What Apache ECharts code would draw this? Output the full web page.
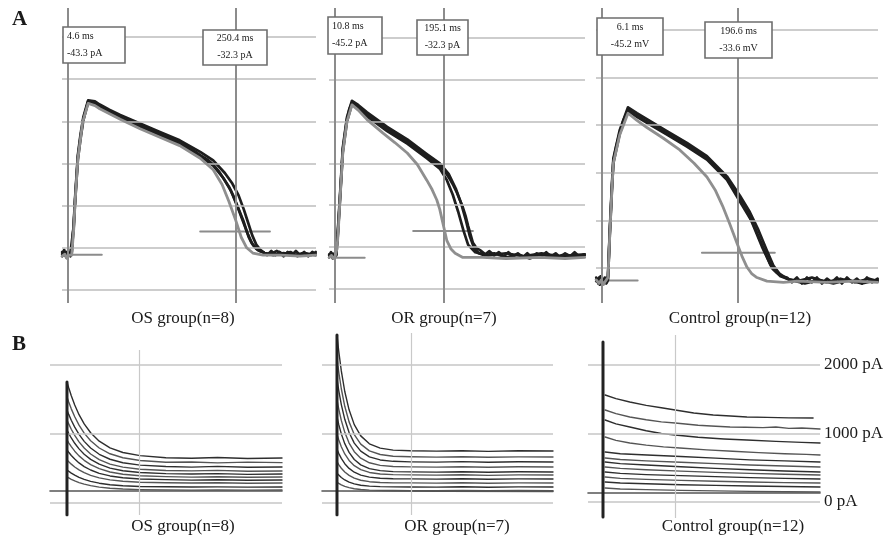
<!DOCTYPE html>
<html><head><meta charset="utf-8">
<script src="https://cdn.jsdelivr.net/npm/echarts@6/dist/echarts.min.js"></script>
<style>html,body{margin:0;padding:0;background:#fff}#c{width:887px;height:538px}</style>
</head><body><div id="c"></div>
<script>
// ---------------- Panel A : action potentials (t in ms, V in mV) ----------------
const aGridMV = [-60, -40, -20, 0, 20, 40, 60];
const ctGridMV = [-40, -20, 0, 20, 40, 60];
const osCursorT = [4.6, 250.4], osCursorV = [-43.3, -32.3], osUnit = 'pA';
const orCursorT = [10.8, 195.1], orCursorV = [-45.2, -32.3], orUnit = 'pA';
const ctCursorT = [6.1, 196.6], ctCursorV = [-45.2, -33.6], ctUnit = 'mV';
const osSegT = [[4.6, 54], [198, 300]];
const orSegT = [[10.8, 61], [143, 244]];
const ctSegT = [[10, 56], [146, 248]];
const groupNames = ['OS group(n=8)', 'OR group(n=7)', 'Control group(n=12)'];

const osBlackA = [[-4,-43],[-1,-41],[2,-44.5],[5,-42],[8,-44],[10,-42.5],[13,-29],[15,-17],[19,3],[23,13],[27,21],[31,26],[34,29.5],[40,29],[44,28.5],[51,27],[65,24.5],[81,22],[95,20],[110,18],[125,16],[139,14],[155,12],[168,10],[185,7],[198,4],[208,2],[217,-0.5],[226,-4],[234,-8],[240,-11],[246,-15],[251,-19],[256,-23],[261,-27],[265,-31],[269,-35],[272,-37],[276,-39],[280,-40.5],[285,-41.5],[290,-42],[296,-43.5],[302,-41.5],[308,-43.5],[314,-42],[320,-44],[326,-42],[332,-43.5],[338,-41.5],[344,-43.5],[350,-42],[356,-44],[362,-42],[367,-43]];
const osBlackB = [[-4,-42],[0,-43.5],[3,-42],[6,-43.5],[10,-42],[13,-28],[15,-16],[19,4],[23,14],[27,22],[34,30],[44,29.5],[51,28],[65,25.5],[81,23],[110,19],[139,15],[168,11],[198,5.5],[217,1.5],[234,-4.5],[245,-9.5],[254,-15],[262,-22],[268,-28],[274,-34],[280,-38.5],[286,-41],[292,-42.5],[300,-43],[310,-41.5],[320,-43],[330,-42],[340,-44],[350,-42.5],[360,-43.5],[367,-42]];
const osBlackC = [[-4,-44],[0,-42],[4,-43.5],[8,-42.5],[10,-43],[13,-30],[15,-18],[19,2],[23,12],[27,20.5],[34,29],[44,28],[51,26.5],[65,24],[81,21.5],[110,17.5],[139,13.5],[168,9.5],[198,3.5],[217,-1],[232,-7],[243,-13],[252,-20],[260,-27],[267,-33],[274,-38],[282,-41],[292,-42.5],[305,-43.5],[320,-42.5],[335,-43.5],[350,-42.5],[367,-43.5]];
const osGray = [[-4,-44],[0,-43],[3,-45],[6,-43.5],[10,-43.5],[13,-31],[15,-18],[19,2],[26,19.5],[34,28.5],[44,27.5],[51,26],[81,21],[110,16.5],[139,12.5],[168,8.5],[198,2.5],[217,-3],[230,-10],[240,-18],[250,-27],[258,-35],[266,-40],[275,-42.5],[290,-43.5],[315,-43.5],[344,-44],[367,-43.5]];

const orBlackA = [[1,-44],[4,-42.5],[7,-45.5],[10,-43],[13,-44],[15,-36],[17,-27],[19,-17.5],[24,6.5],[28,15],[31,21],[35,26],[39.5,29],[50,27],[65,23.5],[82,20],[99,16.5],[116,13.5],[133,10.5],[150,7],[166,3.5],[178,1],[188,-1],[197,-4],[205,-7.5],[211,-10.5],[217,-14],[222,-17.5],[227,-21],[232,-25.5],[236,-30],[240,-34],[244,-38],[250,-40.5],[256,-41.5],[265,-43.5],[272,-42],[280,-44],[288,-42.5],[296,-44.5],[304,-42.5],[312,-44.5],[320,-43],[328,-45],[336,-43],[344,-45],[352,-43],[360,-44.5],[368,-42.5],[376,-44.5],[384,-43],[392,-45],[400,-43],[408,-44.5],[416,-42.5],[424,-44.5],[433,-43.5]];
const orBlackB = [[1,-45],[5,-43],[9,-45],[13,-43.5],[15,-35],[19,-16.5],[24,7.5],[31,22],[39.5,30],[50,28],[65,24.5],[99,17.5],[133,11.5],[166,4.5],[188,0],[203,-5],[215,-12],[224,-19],[232,-27],[239,-35],[246,-40.5],[254,-43],[264,-44],[280,-43],[300,-45],[320,-43.5],[340,-45.5],[360,-43.5],[380,-45],[400,-43.5],[420,-45],[433,-44]];
const orBlackC = [[1,-43.5],[6,-44.5],[11,-43],[15,-37],[19,-18.5],[24,5.5],[31,20],[39.5,28.5],[50,26],[65,22.5],[99,15.5],[133,9.5],[166,2.5],[188,-2.5],[200,-8],[210,-15],[219,-23],[228,-32],[236,-39],[248,-42.5],[270,-44],[300,-43],[330,-44.5],[360,-43],[390,-44.5],[433,-43.5]];
const orGray = [[1,-45],[5,-44],[8,-45.5],[11,-44.5],[14,-41],[16,-34],[19,-18.5],[24,5],[31,20],[39.5,28],[50,25.5],[65,21],[92,14.5],[112,10],[133,5],[150,-0.5],[166,-8],[175,-12.5],[183,-17.5],[188,-22],[192,-27],[196,-32],[200,-37],[207,-41],[214,-43],[227,-45],[260,-45],[300,-45.5],[357,-45],[400,-45.5],[433,-45]];

const ctBlackA = [[-2,-44],[1,-46.5],[4,-43.5],[7,-46.5],[10,-44],[13,-46],[14.5,-43],[17,-25],[20,-6],[22,5],[26,11],[31,17],[36,22],[42.5,26.5],[55,24],[69,21.5],[83,19],[97,16.5],[111,14],[125,11.5],[139,9],[153,6],[167,2],[181,-2.5],[190,-6.5],[199,-11],[206,-14.5],[213,-18.5],[220,-23],[227,-28],[234,-33],[241,-38],[246,-40.5],[251,-42],[258,-43.5],[265,-44],[272,-46],[279,-44],[286,-46.5],[293,-44],[300,-46],[307,-44],[314,-46.5],[321,-44.5],[328,-46],[335,-44],[342,-46.5],[349,-44],[356,-46],[363,-44.5],[370,-46.5],[377,-44],[384,-46],[392,-44.5]];
const ctBlackB = [[-2,-45.5],[2,-44],[6,-46],[10,-44.5],[14.5,-44],[17,-24],[20,-5],[22,6],[31,18],[42.5,27.5],[55,25],[69,22.5],[97,17.5],[125,12.5],[153,7],[181,-1.5],[199,-9.5],[213,-16.5],[225,-24],[236,-32],[246,-39],[255,-42.5],[265,-44.5],[280,-45.5],[300,-44],[320,-46],[340,-44.5],[360,-46],[380,-44.5],[392,-45.5]];
const ctBlackC = [[-2,-45],[3,-47],[8,-45],[12,-46.5],[14.5,-45],[17,-26],[20,-7],[22,4],[31,16.5],[42.5,26],[55,23.5],[69,21],[97,16],[125,11],[153,5.5],[181,-3],[199,-12],[215,-20],[230,-31],[244,-40],[256,-43.5],[270,-45],[290,-46.5],[310,-45],[330,-46.5],[350,-45],[370,-46.5],[392,-45]];
const ctGray = [[-2,-45],[2,-46.5],[5,-45],[8,-47],[11,-45.5],[14.5,-44],[17,-26],[20,-7],[22,4],[31,16],[42.5,25],[55,22],[69,19],[92,14.5],[115,9.6],[135,4],[153,-1.8],[165,-7.5],[175,-14],[185,-21.5],[195,-29.5],[202,-35],[209,-39.6],[216,-42.5],[223,-44],[237,-45.5],[260,-46],[280,-45.5],[320,-46],[360,-45.5],[392,-46]];

// ---------------- Panel B : currents (t in ms, I in pA) ----------------
const bGridPA = [0, 1000, 2000];
const bCursorT = [167, 171, 167];
const bLabels = ['2000 pA', '1000 pA', '0 pA'];
// sample times for the decaying part of the OS / OR traces
const bT = [0, 4, 10, 18, 28, 40, 55, 75, 100, 130, 170, 230, 290, 350, 420, 500];

const osBase = [[-39.5,174],[0,174],[500,174]];
const osSpike = [[0,174],[0,-174],[0,1754]];
const osI1 = [1754,1669,1554,1421,1280,1146,1018,896,799,732,686,655,648,660,645,652];
const osI2 = [1536,1463,1364,1249,1128,1012,902,797,713,655,616,590,594,582,592,585];
const osI3 = [1348,1284,1199,1099,994,893,797,706,634,583,549,528,520,530,518,522];
const osI4 = [1203,1146,1069,980,886,796,710,629,564,519,488,470,466,472,460,464];
const osI5 = [1058,1009,942,865,784,706,632,562,506,467,441,426,420,425,414,420];
const osI6 = [913,872,816,751,683,618,556,497,449,417,395,382,375,381,372,377];
const osI7 = [768,735,689,637,581,528,478,430,392,365,347,338,332,336,329,333];
const osI8 = [623,597,563,522,480,440,401,364,335,315,301,294,289,293,287,290];
const osI9 = [478,459,433,404,372,342,314,287,265,250,240,235,231,234,230,232];
const osI10 = [377,362,343,320,296,273,251,230,214,202,194,190,187,189,186,188];

const orBase = [[-34.7,174],[0,174],[500,168]];
const orSpike = [[0,174],[0,-174],[0,2435]];
const orI1 = [2435,2203,1914,1616,1351,1136,973,858,796,767,757,752,758,748,757,754];
const orI2 = [2100,1902,1656,1402,1176,992,853,756,703,678,670,665,671,662,669,667];
const orI3 = [1800,1634,1426,1213,1022,868,751,669,624,604,596,592,599,590,597,594];
const orI4 = [1500,1365,1197,1024,869,744,649,583,546,530,524,520,526,518,525,522];
const orI5 = [1250,1139,1002,860,733,631,553,499,469,455,451,447,453,445,452,449];
const orI6 = [1000,918,816,711,617,541,483,443,421,411,407,404,409,401,408,406];
const orI7 = [780,720,646,570,501,446,404,375,359,351,349,346,351,344,350,348];
const orI8 = [600,557,504,449,400,360,330,309,298,292,291,288,293,287,292,290];
const orI9 = [430,403,369,334,302,277,258,244,237,234,232,230,235,229,234,232];
const orI10 = [300,283,263,242,223,207,196,187,183,181,180,178,182,177,181,180];

const ctBase = [[-34.7,131],[0,131],[502,131]];
const ctSpike = [[0,131],[0,-219],[0,2336]];
const ctI1 = [[5,1562],[30,1510],[62,1460],[100,1410],[135,1375],[167,1343],[210,1300],[255,1270],[295,1255],[333,1241],[380,1235],[430,1228],[486,1226]];
const ctI2 = [[5,1343],[30,1290],[62,1241],[100,1200],[135,1170],[167,1153],[220,1120],[250,1110],[294,1095],[330,1090],[370,1085],[400,1095],[430,1075],[460,1080],[502,1066]];
const ctI3 = [[5,1197],[30,1140],[62,1095],[100,1040],[135,1000],[167,978],[220,945],[280,920],[333,905],[400,885],[460,870],[502,861]];
const ctI4 = [[5,949],[30,900],[62,861],[100,830],[140,805],[178,788],[240,760],[300,740],[360,720],[420,705],[470,695],[502,686]];
const ctI5 = [[5,730],[40,705],[102,686],[180,665],[260,640],[340,615],[420,600],[502,584]];
const ctI6 = [[5,642],[40,620],[100,600],[180,580],[260,560],[340,540],[420,525],[502,511]];
const ctI7 = [[5,584],[40,560],[100,540],[180,515],[260,490],[340,470],[420,452],[502,438]];
const ctI8 = [[5,511],[40,490],[100,470],[180,450],[260,432],[340,418],[420,405],[502,394]];
const ctI9 = [[5,438],[40,418],[100,400],[180,385],[260,370],[340,356],[420,345],[502,336]];
const ctI10 = [[5,365],[40,345],[100,330],[180,315],[260,302],[340,292],[420,283],[502,277]];
const ctI11 = [[5,292],[40,278],[100,265],[180,252],[260,242],[340,233],[420,225],[502,219]];
const ctI12 = [[5,204],[40,190],[100,180],[180,170],[260,162],[340,155],[420,150],[502,146]];

// ---------------- layout ----------------
const SERIF = '"Liberation Serif","DejaVu Serif",serif';
const grids = [
  {left:62, top:8, width:254, height:295},
  {left:329, top:8, width:256, height:295},
  {left:596, top:8, width:282, height:295},
  {left:50, top:350, width:232, height:165},
  {left:322, top:333, width:231, height:182},
  {left:588, top:335, width:232, height:183}
];
const xr = [[-4.2,367.4],[0.65,433.6],[-2.3,392.5],[-39.5,500],[-34.7,500],[-34.7,502]];
const yr = [[-66.2,73.8],[-66.8,74.4],[-54.7,69.2],[-174,2217],[-174,2464],[-234,2438]];

const series = [];
function frame(gi, hVals, vVals, hStyle, vStyle) {
  series.push({type:'line', xAxisIndex:gi, yAxisIndex:gi, data:[[xr[gi][0], yr[gi][0]]], symbol:'none',
    lineStyle:{opacity:0}, z:1, silent:true,
    markLine:{silent:true, symbol:['none','none'], label:{show:false}, animation:false,
      data:[...hVals.map(v=>({yAxis:v, lineStyle:hStyle})), ...vVals.map(t=>({xAxis:t, lineStyle:vStyle}))]}});
}
function trace(gi, data, color, width, z) {
  series.push({type:'line', xAxisIndex:gi, yAxisIndex:gi, data:data, symbol:'none', silent:true,
    lineStyle:{color:color, width:width, join:'round', cap:'round'}, z:z||3});
}
const hA = {color:'#bdbdbd', width:1.5, type:'solid'};
const vA = {color:'#8c8c8c', width:2, type:'solid'};
const hB = {color:'#c6c6c6', width:1.5, type:'solid'};
const vB = {color:'#c9c9c9', width:1.2, type:'solid'};

frame(0, aGridMV, osCursorT, hA, vA);
frame(1, aGridMV, orCursorT, hA, vA);
frame(2, ctGridMV, ctCursorT, hA, vA);
frame(3, bGridPA, [bCursorT[0]], hB, vB);
frame(4, bGridPA, [bCursorT[1]], hB, vB);
frame(5, bGridPA, [bCursorT[2]], hB, vB);

// cursor level markers
[[0,osSegT,osCursorV],[1,orSegT,orCursorV],[2,ctSegT,ctCursorV]].forEach(([gi,segs,vals])=>{
  segs.forEach((sg,i)=>trace(gi, [[sg[0],vals[i]],[sg[1],vals[i]]], '#8c8c8c', 2, 2));
});

const BLK = '#1e1e1e', GRY = '#8f8f8f';
[[0,[osGray],[osBlackB,osBlackC,osBlackA]],[1,[orGray],[orBlackB,orBlackC,orBlackA]],[2,[ctGray],[ctBlackB,ctBlackC,ctBlackA]]]
.forEach(([gi,grays,blacks])=>{
  blacks.forEach(d=>trace(gi, d, BLK, 2.7, 4));
  grays.forEach(d=>trace(gi, d, GRY, 2.8, 5));
});

const bCols = ['#2e2e2e','#555555'];
const pairT = vals => vals.map((v,i)=>[bT[i], v]);
[[3,osBase,osSpike,[osI1,osI2,osI3,osI4,osI5,osI6,osI7,osI8,osI9,osI10].map(pairT)],
 [4,orBase,orSpike,[orI1,orI2,orI3,orI4,orI5,orI6,orI7,orI8,orI9,orI10].map(pairT)],
 [5,ctBase,ctSpike,[ctI1,ctI2,ctI3,ctI4,ctI5,ctI6,ctI7,ctI8,ctI9,ctI10,ctI11,ctI12]]]
.forEach(([gi,base,spike,tr])=>{
  trace(gi, base, '#555', 1.6, 3);
  tr.forEach((d,i)=>trace(gi, d, bCols[i%2], 1.4, 4));
  trace(gi, spike, '#222', 3, 6);
});

// ---------------- graphics: boxes, labels ----------------
const graphic = [];
function txt(x, y, s, size, align, weight) {
  graphic.push({type:'text', x:x, y:y, z:200, silent:true,
    style:{text:s, font:(weight||'normal')+' '+size+'px '+SERIF, fill:'#1a1a1a',
      textAlign:align, textVerticalAlign:'middle', align:align, verticalAlign:'middle'}});
}
function box(x, y, w, h, l1, l2, align) {
  graphic.push({type:'rect', z:150, silent:true, shape:{x:x, y:y, width:w, height:h},
    style:{fill:'#fff', stroke:'#6e6e6e', lineWidth:1.6}});
  const tx = align === 'left' ? x + 4 : x + w/2;
  txt(tx, y + h*0.25, l1, 10, align);
  txt(tx, y + h*0.72, l2, 10, align);
}
const fmt = (t,v,u)=>[t.toFixed(1)+' ms', v.toFixed(1)+' '+u];
let L;
L = fmt(osCursorT[0], osCursorV[0], osUnit); box(63,27,62,36,L[0],L[1],'left');
L = fmt(osCursorT[1], osCursorV[1], osUnit); box(203,30,64,35,L[0],L[1],'center');
L = fmt(orCursorT[0], orCursorV[0], orUnit); box(328,17,54,37,L[0],L[1],'left');
L = fmt(orCursorT[1], orCursorV[1], orUnit); box(417,20,51,35,L[0],L[1],'center');
L = fmt(ctCursorT[0], ctCursorV[0], ctUnit); box(597,18,66,37,L[0],L[1],'center');
L = fmt(ctCursorT[1], ctCursorV[1], ctUnit); box(705,22,67,36,L[0],L[1],'center');

txt(12, 20, 'A', 21, 'left', 'bold');
txt(12, 345, 'B', 21, 'left', 'bold');
[183, 444, 740].forEach((x,i)=>txt(x, 319, groupNames[i], 17, 'center'));
[183, 457, 733].forEach((x,i)=>txt(x, 527, groupNames[i], 17, 'center'));
[365, 434, 502].forEach((y,i)=>txt(824, y, bLabels[i], 17, 'left'));

const chart = echarts.init(document.getElementById('c'), null, {renderer:'canvas'});
chart.setOption({
  animation:false,
  backgroundColor:'#fff',
  grid: grids.map(g=>Object.assign({containLabel:false}, g)),
  xAxis: xr.map((r,i)=>({type:'value', gridIndex:i, min:r[0], max:r[1], show:false, splitLine:{show:false}})),
  yAxis: yr.map((r,i)=>({type:'value', gridIndex:i, min:r[0], max:r[1], show:false, splitLine:{show:false}})),
  series: series,
  graphic: graphic
});
</script></body></html>
